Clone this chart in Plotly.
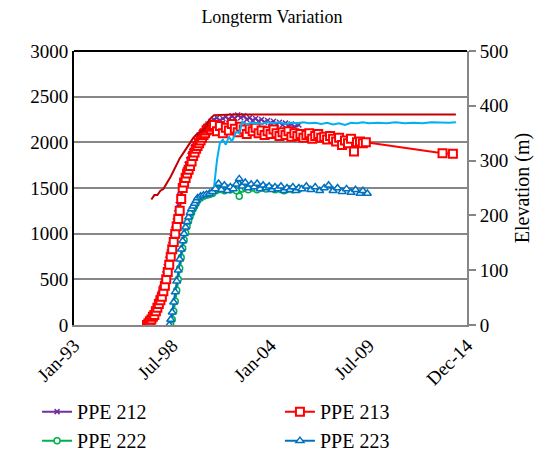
import plotly.graph_objects as go

# PPE 212 readings
ppe212_dates = ["1997-01-01", "1997-02-01", "1997-03-01", "1997-04-01", "1997-05-01", "1997-06-01",
                "1997-07-01", "1997-08-01", "1997-09-01", "1997-10-01", "1997-11-01", "1997-12-01",
                "1998-01-01", "1998-02-01", "1998-03-01", "1998-04-01", "1998-05-01", "1998-06-01",
                "1998-07-01", "1998-08-01", "1998-09-01", "1998-10-01", "1998-11-01", "1998-12-01",
                "1999-01-01", "1999-02-01", "1999-03-01", "1999-04-01", "1999-05-01", "1999-06-01",
                "1999-07-01", "1999-08-01", "1999-09-01", "1999-10-01", "1999-11-01", "1999-12-01",
                "2000-01-01", "2000-03-01", "2000-05-01", "2000-07-01", "2000-09-01", "2000-11-01",
                "2001-01-01", "2001-03-01", "2001-05-01", "2001-07-01", "2001-09-01", "2001-11-01",
                "2002-01-01", "2002-03-01", "2002-05-01", "2002-07-01", "2002-09-01", "2002-11-01",
                "2003-01-01", "2003-03-01", "2003-05-01", "2003-07-01", "2003-09-01", "2003-11-01",
                "2004-01-01", "2004-03-01", "2004-05-01", "2004-07-01", "2004-09-01", "2004-11-01",
                "2005-01-01", "2005-03-01", "2005-05-01", "2005-08-01"]
ppe212_vals = [0, 30, 50, 70, 100, 130,
               170, 210, 260, 300, 350, 410,
               480, 560, 640, 720, 800, 880,
               960, 1050, 1140, 1230, 1320, 1420,
               1500, 1570, 1640, 1700, 1760, 1810,
               1860, 1900, 1940, 1980, 2020, 2050,
               2080, 2120, 2160, 2200, 2230, 2250,
               2270, 2240, 2260, 2280, 2250, 2290,
               2260, 2300, 2270, 2290, 2250, 2270,
               2240, 2260, 2230, 2250, 2220, 2240,
               2210, 2230, 2200, 2220, 2190, 2210,
               2180, 2200, 2170, 2190]

# PPE 213 readings
ppe213_dates = ["1997-02-01", "1997-03-01", "1997-04-01", "1997-05-01", "1997-06-01", "1997-07-01",
                "1997-08-01", "1997-09-01", "1997-10-01", "1997-11-01", "1997-12-01", "1998-01-01",
                "1998-02-01", "1998-03-01", "1998-04-01", "1998-05-01", "1998-06-01", "1998-07-01",
                "1998-08-01", "1998-09-01", "1998-10-01", "1998-11-01", "1998-12-01", "1999-01-01",
                "1999-02-01", "1999-03-01", "1999-04-01", "1999-05-01", "1999-06-01", "1999-07-01",
                "1999-08-01", "1999-09-01", "1999-10-01", "1999-11-01", "1999-12-01", "2000-01-01",
                "2000-02-01", "2000-03-01", "2000-04-01", "2000-05-01", "2000-06-01", "2000-07-01",
                "2000-08-01", "2000-09-01", "2000-10-01", "2000-11-01",
                "2001-01-01", "2001-03-01", "2001-05-01", "2001-07-01", "2001-09-01", "2001-11-01",
                "2002-01-01", "2002-03-01", "2002-05-01", "2002-07-01", "2002-09-01", "2002-11-01",
                "2003-01-01", "2003-03-01", "2003-05-01", "2003-07-01", "2003-09-01", "2003-11-01",
                "2004-01-01", "2004-03-01", "2004-05-01", "2004-07-01", "2004-09-01", "2004-11-01",
                "2005-01-01", "2005-03-01", "2005-05-01", "2005-07-01", "2005-09-01", "2005-11-01",
                "2006-01-01", "2006-03-01", "2006-05-01", "2006-07-01", "2006-09-01", "2006-11-01",
                "2007-01-01", "2007-03-01", "2007-05-01", "2007-07-01", "2007-09-01", "2007-11-01",
                "2008-01-01", "2008-03-01", "2008-05-01", "2008-07-01", "2008-09-01", "2008-11-01",
                "2009-01-01", "2009-03-01", "2009-05-01", "2013-08-15", "2014-03-15"]
ppe213_vals = [0, 20, 40, 60, 90, 110,
               150, 190, 230, 270, 310, 370,
               430, 500, 580, 660, 750, 830,
               910, 1000, 1080, 1160, 1250, 1380,
               1500, 1560, 1610, 1660, 1700, 1740,
               1790, 1850, 1890, 1930, 1960, 1990,
               2020, 2050, 2080, 2100, 2130, 2150,
               2160, 2140, 2170, 2190,
               2120, 2180, 2100, 2160, 2130, 2200,
               2150, 2110, 2170, 2140, 2090, 2150,
               2120, 2160, 2100, 2130, 2080, 2120,
               2090, 2140, 2100, 2070, 2110, 2080,
               2120, 2060, 2100, 2070, 2090, 2050,
               2080, 2100, 2040, 2070, 2090, 2050,
               2060, 2030, 2070, 2040, 2010, 2050,
               1970, 2020, 1990, 2040, 1900, 2000,
               2010, 1990, 2000, 1880, 1875]

# PPE 222 readings
ppe222_dates = ["1998-06-01", "1998-07-01", "1998-08-01", "1998-09-01", "1998-10-01", "1998-11-01",
                "1998-12-01", "1999-01-01", "1999-02-01", "1999-03-01", "1999-04-01", "1999-05-01",
                "1999-06-01", "1999-07-01", "1999-08-01", "1999-09-01", "1999-10-01", "1999-11-01",
                "1999-12-01", "2000-02-01", "2000-04-01", "2000-06-01", "2000-08-01", "2000-10-01",
                "2000-12-01", "2001-02-01", "2001-04-01", "2001-06-01", "2001-08-01", "2001-10-01",
                "2001-12-01", "2002-02-01", "2002-04-01", "2002-06-01", "2002-08-01", "2002-10-01",
                "2003-01-01", "2003-04-01", "2003-07-01", "2003-10-01", "2004-01-01", "2004-04-01",
                "2004-07-01", "2004-10-01", "2005-01-01", "2005-04-01", "2005-08-01"]
ppe222_vals = [0, 60, 150, 260, 380, 500,
               620, 740, 840, 930, 1010, 1080,
               1140, 1190, 1230, 1270, 1300, 1330,
               1360, 1390, 1410, 1420, 1430, 1440,
               1470, 1480, 1490, 1470, 1500, 1480,
               1500, 1470, 1410, 1490, 1500, 1480,
               1500, 1480, 1500, 1490, 1500, 1480,
               1490, 1470, 1490, 1480, 1490]

# PPE 223 readings
ppe223_dates = ["1998-05-01", "1998-06-01", "1998-07-01", "1998-08-01", "1998-09-01", "1998-10-01",
                "1998-11-01", "1998-12-01", "1999-01-01", "1999-02-01", "1999-03-01", "1999-04-01",
                "1999-05-01", "1999-06-01", "1999-07-01", "1999-08-01", "1999-09-01", "1999-10-01",
                "1999-11-01", "1999-12-01", "2000-02-01", "2000-04-01", "2000-06-01", "2000-08-01",
                "2000-10-01", "2000-12-01", "2001-02-01", "2001-04-01", "2001-06-01", "2001-08-01",
                "2001-10-01", "2001-12-01", "2002-02-01", "2002-04-01", "2002-06-01", "2002-08-01",
                "2002-10-01", "2002-12-01", "2003-02-01", "2003-04-01", "2003-06-01", "2003-08-01",
                "2003-10-01", "2003-12-01", "2004-02-01", "2004-04-01", "2004-06-01", "2004-08-01",
                "2004-10-01", "2004-12-01", "2005-02-01", "2005-04-01", "2005-06-01", "2005-08-01",
                "2005-10-01", "2006-01-01", "2006-04-01", "2006-07-01", "2006-10-01", "2007-01-01",
                "2007-04-01", "2007-07-01", "2007-10-01", "2008-01-01", "2008-04-01", "2008-07-01",
                "2008-10-01", "2009-01-01", "2009-03-01", "2009-06-01"]
ppe223_vals = [0, 60, 140, 250, 360, 480,
               600, 720, 830, 920, 1000, 1070,
               1130, 1180, 1230, 1270, 1300, 1330,
               1360, 1390, 1410, 1420, 1430, 1440,
               1460, 1490, 1550, 1480, 1530, 1470,
               1510, 1490, 1540, 1600, 1520, 1560,
               1500, 1540, 1510, 1550, 1490, 1530,
               1500, 1520, 1480, 1510, 1490, 1520,
               1470, 1500, 1480, 1510, 1470, 1500,
               1490, 1520, 1480, 1510, 1470, 1500,
               1530, 1470, 1500, 1460, 1490, 1450,
               1480, 1440, 1470, 1440]

# Reservoir elevation records (m), right axis
elev_a_dates = ["1997-05-01", "1997-07-01", "1997-09-01", "1997-11-01", "1998-01-01", "1998-02-01",
                "1998-04-01", "1998-06-01", "1998-08-01", "1998-10-01", "1998-12-01", "1999-03-01",
                "1999-05-01", "1999-07-01", "1999-09-01", "1999-11-01", "2000-02-01", "2000-04-01",
                "2000-06-01", "2000-07-01", "2000-09-01", "2000-11-01", "2002-01-01", "2014-05-15"]
elev_a_vals = [229, 237, 237, 245, 248, 252,
               262, 271, 282, 292, 304, 316,
               325, 334, 341, 347, 352, 356,
               364, 371, 378, 383, 384, 384]

elev_b_dates = ["2000-11-01", "2000-12-01", "2001-01-01", "2001-03-01", "2001-05-01", "2001-07-01",
                "2001-09-01", "2001-11-01", "2002-02-01", "2002-04-01", "2002-06-01", "2002-09-01",
                "2002-11-01", "2003-03-01", "2003-07-01", "2003-11-01", "2004-03-01", "2004-07-01",
                "2004-11-01", "2005-03-01", "2005-07-01", "2005-11-01", "2006-03-01", "2006-07-01",
                "2006-11-01", "2007-03-01", "2007-07-01", "2007-11-01", "2008-03-01", "2008-07-01",
                "2008-11-01", "2009-03-01", "2009-07-01", "2010-01-01", "2010-07-01", "2011-01-01",
                "2011-07-01", "2012-01-01", "2012-07-01", "2013-01-01", "2013-07-01", "2014-01-01",
                "2014-05-15"]
elev_b_vals = [251, 275, 301, 332, 338, 329,
               344, 335, 353, 350, 371, 366,
               368, 369, 367, 370, 368, 370,
               367, 369, 368, 370, 368, 369,
               367, 369, 366, 368, 365, 369,
               368, 370, 368, 369, 368, 370,
               368, 369, 368, 370, 369, 369,
               370]

# Date axis labels
tick_dates = ["1993-01-01", "1998-07-01", "2004-01-01", "2009-07-01", "2014-12-28"]
tick_labels = ["Jan-93", "Jul-98", "Jan-04", "Jul-09", "Dec-14"]

FONT = "Liberation Serif"
GRID = "#868686"

fig = go.Figure()

fig.add_trace(go.Scatter(
    x=ppe212_dates, y=ppe212_vals, name="PPE 212", mode="lines+markers",
    legend="legend", legendgroup="a",
    line=dict(color="#7030A0", width=2),
    marker=dict(symbol="x-thin", size=5, color="#7030A0", line=dict(color="#7030A0", width=1.5)),
))
fig.add_trace(go.Scatter(
    x=ppe213_dates, y=ppe213_vals, name="PPE 213", mode="lines+markers",
    legend="legend2", legendgroup="b",
    line=dict(color="#FF0000", width=2),
    marker=dict(symbol="square", size=8, color="white", line=dict(color="#FF0000", width=2)),
))
fig.add_trace(go.Scatter(
    x=ppe222_dates, y=ppe222_vals, name="PPE 222", mode="lines+markers",
    legend="legend", legendgroup="c",
    line=dict(color="#00B050", width=2),
    marker=dict(symbol="circle", size=6, color="white", line=dict(color="#00B050", width=1.5)),
))
fig.add_trace(go.Scatter(
    x=ppe223_dates, y=ppe223_vals, name="PPE 223", mode="lines+markers",
    legend="legend2", legendgroup="d",
    line=dict(color="#0070C0", width=2),
    marker=dict(symbol="triangle-up", size=7, color="white", line=dict(color="#0070C0", width=1.5)),
))
fig.add_trace(go.Scatter(
    x=elev_a_dates, y=elev_a_vals, yaxis="y2", mode="lines", showlegend=False,
    line=dict(color="#C00000", width=2),
))
fig.add_trace(go.Scatter(
    x=elev_b_dates, y=elev_b_vals, yaxis="y2", mode="lines", showlegend=False,
    line=dict(color="#00B0F0", width=2),
))

legend_style = dict(
    orientation="v", yanchor="top", xanchor="left", y=-0.245,
    tracegroupgap=0, font=dict(family=FONT, size=20),
    bgcolor="rgba(0,0,0,0)", borderwidth=0,
)

fig.update_layout(
    width=555, height=452, autosize=False,
    margin=dict(l=74, r=88, t=51, b=127, autoexpand=False),
    paper_bgcolor="white", plot_bgcolor="white",
    font=dict(family=FONT, size=19, color="black"),
    title=dict(text="Longterm Variation", x=0.49, xanchor="center", y=0.962, yanchor="middle",
               font=dict(family=FONT, size=18, color="black")),
    xaxis=dict(
        type="date", range=["1993-01-01", "2014-12-28"],
        tickmode="array", tickvals=tick_dates, ticktext=tick_labels, tickangle=-45,
        showgrid=False, zeroline=False, showline=True, linecolor=GRID, linewidth=2,
        ticks="", tickfont=dict(family=FONT, size=19),
    ),
    yaxis=dict(
        range=[0, 3000], dtick=500, tick0=0,
        showgrid=True, gridcolor=GRID, gridwidth=2, zeroline=False,
        showline=True, linecolor="black", linewidth=2, ticks="",
        tickfont=dict(family=FONT, size=19),
    ),
    yaxis2=dict(
        overlaying="y", side="right", range=[0, 500], dtick=100, tick0=0,
        showgrid=False, zeroline=False, showline=True, linecolor=GRID, linewidth=2,
        ticks="outside", ticklen=7, tickwidth=2, tickcolor=GRID,
        tickfont=dict(family=FONT, size=19),
        title=dict(text="Elevation (m)", font=dict(family=FONT, size=20), standoff=8),
    ),
    legend=dict(x=-0.094, **legend_style),
    legend2=dict(x=0.524, **legend_style),
    shapes=[dict(type="line", xref="paper", yref="paper", x0=0, x1=1, y0=1, y1=1,
                 line=dict(color="black", width=2))],
)

fig.write_html("out.html")
